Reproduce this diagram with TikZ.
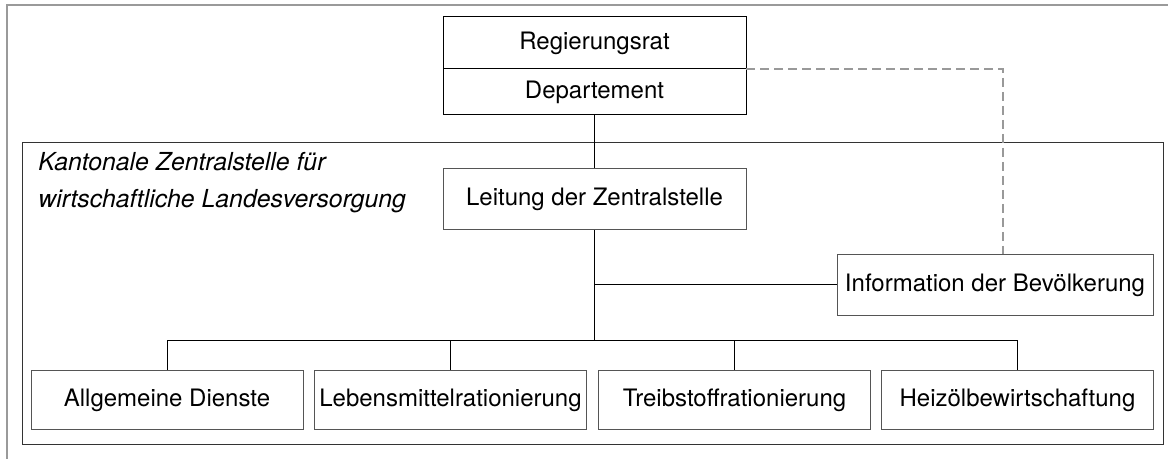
\documentclass[tikz,border=0pt]{standalone}
\usepackage{fontspec}
\setmainfont{TeX Gyre Heros}
\usetikzlibrary{positioning, calc}
\definecolor{frameGray}{HTML}{9a9a9a}
\definecolor{boxLine}{HTML}{555555}
\definecolor{dashGray}{HTML}{999999}
\def\pageW{1168}
\def\pageH{459}
\def\busY{341}
\def\dashX{1003}

\begin{document}
\begin{tikzpicture}[x=0.5pt, y=-0.5pt,
                    font=\fontsize{12pt}{14.4pt}\selectfont,
                    topbox/.style={draw=black, line width=0.5pt, inner sep=0pt,
                                   outer sep=0pt, minimum width=151.5pt},
                    unitbox/.style={draw=boxLine, line width=0.5pt, inner sep=0pt,
                                    minimum width=136pt, minimum height=29.5pt},
                    link/.style={black, line width=0.5pt},
                    infolink/.style={dashGray, line width=0.6pt,
                                     dash pattern=on 4.5pt off 2.5pt}]

    \useasboundingbox (0,0) rectangle (\pageW,\pageH);

    % ==========================================================
    % 1. FRAMES
    % ==========================================================
    % Outer page frame (light gray, open to the right and bottom)
    \draw[frameGray, line width=0.9pt] (7,\pageH) -- (7,5) -- (\pageW,5);

    % Zentralstelle frame
    \draw[black!80, line width=0.5pt] (22,143) rectangle (1163,445);
    \node[font=\fontsize{12.4pt}{18.5pt}\selectfont\itshape, align=left,
          anchor=north west, inner sep=0pt] (zsTitle) at (38,152)
        {Kantonale Zentralstelle für\\wirtschaftliche Landesversorgung};

    % ==========================================================
    % 2. UPPER LEVELS
    % ==========================================================
    \node[topbox, minimum height=26pt] (reg) at (594.5,43) {Regierungsrat};
    \node[topbox, minimum height=23pt, below=0pt of reg] (dep) {Departement};

    \node[unitbox, minimum width=151.5pt, minimum height=30.5pt]
        (leit) at (594.5,199.5) {Leitung der Zentralstelle};
    \node[unitbox, minimum width=158pt, minimum height=30.5pt]
        (info) at (995,285) {Information der Bevölkerung};

    % ==========================================================
    % 3. CONNECTORS
    % ==========================================================
    \coordinate (bus)   at (594.5,\busY);
    \coordinate (infoJ) at (leit.south |- info.west);
    \coordinate (dashTurn) at (\dashX,69);

    \draw[link] (dep.south) -- (leit.north);
    \draw[link] (leit.south) -- (bus);
    \draw[link] (infoJ) -- (info.west);

    % Information line to the government (dashed)
    \draw[infolink] (reg.south east) -- (dashTurn) -- (dashTurn |- info.north);

    % ==========================================================
    % 4. SECTIONS
    % ==========================================================
    \foreach \name/\cx/\txt in {dienste/167/Allgemeine Dienste,
                                lebens/450.5/Lebensmittelrationierung,
                                treib/734.5/Treibstoffrationierung,
                                heiz/1017.5/Heizölbewirtschaftung} {
        \node[unitbox] (\name) at (\cx,400.5) {\txt};
        \draw[link] (bus) -| (\name.north);
    }

\end{tikzpicture}
\end{document}
